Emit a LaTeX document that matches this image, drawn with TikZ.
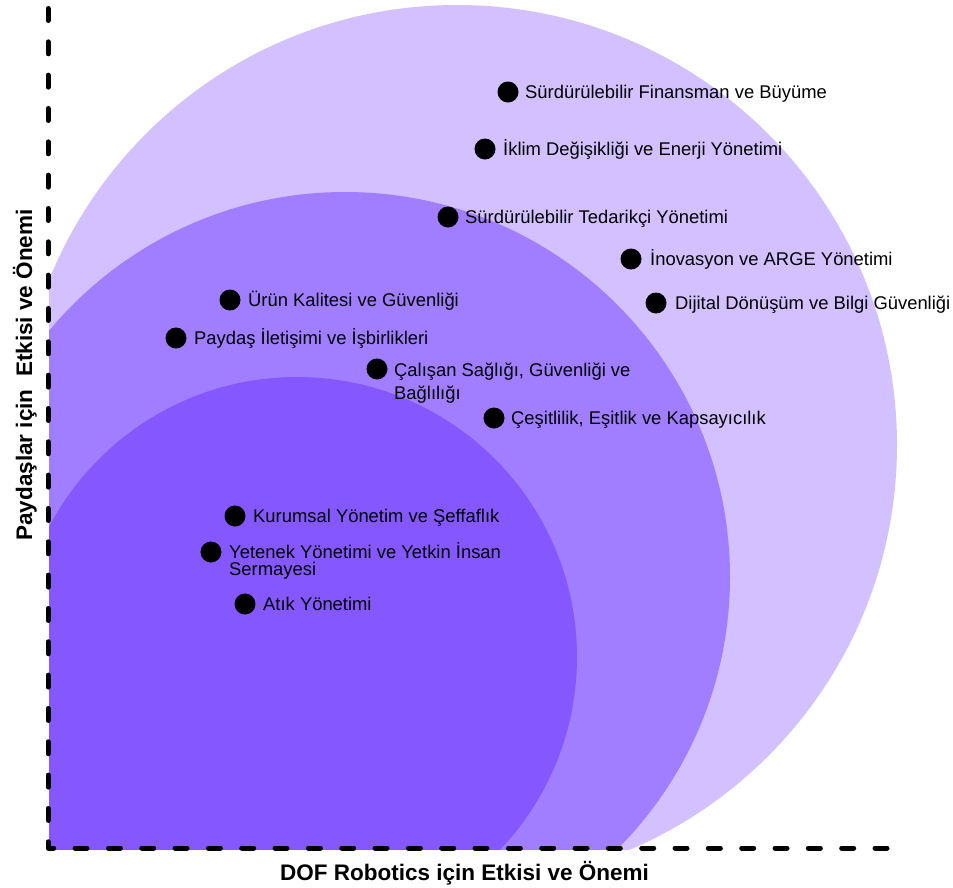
\documentclass[tikz,border=0pt]{standalone}
\usepackage{fontspec}
\setmainfont{Liberation Sans}
\definecolor{lightP}{HTML}{D3C1FF}
\definecolor{midP}{HTML}{A07EFF}
\definecolor{darkP}{HTML}{8558FF}
\newcommand{\tightlines}{\lineskiplimit=-20pt\relax}
\tikzset{
  dot/.style={circle, fill=black, minimum size=21pt, inner sep=0pt},
  lbl/.style={anchor=base west, inner sep=0pt, align=left,
    font=\fontsize{18.4}{22}\selectfont},
  axlbl/.style={inner sep=0pt, anchor=base, font=\fontsize{22.5}{26}\selectfont\bfseries},
  axisline/.style={line width=5pt, line cap=round, line join=round,
    dash pattern=on 12pt off 21.33pt}
}
\begin{document}
\begin{tikzpicture}[x=1pt,y=-1pt]
\useasboundingbox (0,0) rectangle (953,887);
\fill[white] (0,0) rectangle (953,887);
\begin{scope}
  \clip (49,0) rectangle (953,849);
  \fill[lightP] (457,445) circle[radius=440pt] (0,445) rectangle (457,900);
  \fill[midP] (345,577) circle[radius=385pt] (0,577) rectangle (345,900);
  \fill[darkP] (297,657) circle[radius=280pt] (0,657) rectangle (297,900);
\end{scope}
\coordinate (ytop) at (48,8.5);
\coordinate (origin) at (48,848);
\coordinate (xend) at (887,848);
\draw[axisline] (ytop) -- (origin) -- (xend);

\node[axlbl] (xlab) at (464.5,880) {DOF Robotics için Etkisi ve Önemi};
\node[axlbl, rotate=90] (ylab) at (32,375) {Paydaşlar için~~Etkisi ve Önemi};

\node[dot] (d1) at (508,92) {};
\node[lbl] (l1) at (525,98.5) {Sürdürülebilir Finansman ve Büyüme};
\node[dot] (d2) at (485,149) {};
\node[lbl] (l2) at (503,155.5) {İklim Değişikliği ve Enerji Yönetimi};
\node[dot] (d3) at (448,217) {};
\node[lbl] (l3) at (465,223.5) {Sürdürülebilir Tedarikçi Yönetimi};
\node[dot] (d4) at (631,259) {};
\node[lbl] (l4) at (650,265.5) {İnovasyon ve ARGE Yönetimi};
\node[dot] (d5) at (656,303) {};
\node[lbl] (l5) at (675,309.5) {Dijital Dönüşüm ve Bilgi Güvenliği};
\node[dot] (d6) at (230,300) {};
\node[lbl] (l6) at (248,306.5) {Ürün Kalitesi ve Güvenliği};
\node[dot] (d7) at (176,338) {};
\node[lbl] (l7) at (194,344.5) {Paydaş İletişimi ve İşbirlikleri};
\node[dot] (d8) at (377,369) {};
\node[lbl, font=\fontsize{18.4}{23}\selectfont] (l8) at (394,399) {Çalışan Sağlığı, Güvenliği ve\\Bağlılığı};
\node[dot] (d9) at (494,418) {};
\node[lbl] (l9) at (511,424.5) {Çeşitlilik, Eşitlik ve Kapsayıcılık};
\node[dot] (d10) at (235,516) {};
\node[lbl] (l10) at (253,522) {Kurumsal Yönetim ve Şeffaflık};
\node[dot] (d11) at (211,552) {};
\node[lbl, font=\fontsize{18.4}{17}\selectfont\tightlines] (l11) at (229,575) {Yetenek Yönetimi ve Yetkin İnsan\\Sermayesi};
\node[dot] (d12) at (245,604) {};
\node[lbl] (l12) at (263,610.5) {Atık Yönetimi};
\end{tikzpicture}
\end{document}
